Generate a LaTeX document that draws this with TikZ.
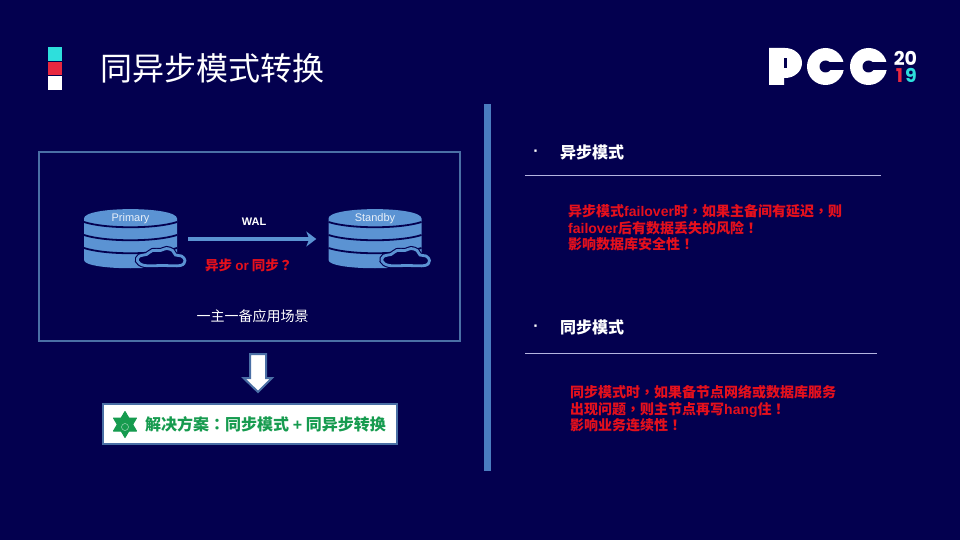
\documentclass[tikz,border=0pt]{standalone}
\usepackage{fontspec}
\setmainfont{Liberation Sans}
\newfontfamily\cjk{Noto Sans CJK SC}
\newfontfamily\cjkpunct{Noto Sans CJK TC}
\newfontfamily\logofont{Poppins}
\usetikzlibrary{positioning,arrows.meta}
\definecolor{bgblue}{HTML}{03004F}
\definecolor{dbblue}{HTML}{5B93D3}
\definecolor{framecol}{HTML}{4A6FA5}
\definecolor{barblue}{HTML}{4A7CC0}
\definecolor{rulecol}{HTML}{B4B4E0}
\definecolor{redtxt}{HTML}{E5101C}
\definecolor{greentxt}{HTML}{169B4F}
\definecolor{teal}{HTML}{2EDFDC}
\definecolor{logored}{HTML}{E8283F}
\tikzset{
  dbbox/.style={minimum width=93pt,minimum height=58pt,inner sep=0},
  dbname/.style={text=white!85!dbblue,font=\fontsize{11}{11}\selectfont,inner sep=0},
  walarrow/.style={dbblue,line width=3.5pt,-{Stealth[length=10pt,width=15pt,inset=3pt]}},
  headtxt/.style={text=white,anchor=west,inner sep=0,font=\cjk\bfseries\fontsize{16}{16}\selectfont},
  bullettxt/.style={text=white,inner sep=0,font=\bfseries\fontsize{16}{16}\selectfont},
  redblock/.style={text=redtxt,anchor=north west,align=left,inner sep=0,font=\cjk\bfseries\fontsize{14}{16.8}\selectfont},
  yeartxt/.style={inner sep=0,font=\logofont\bfseries\fontsize{19}{19}\selectfont},
  hrule/.style={rulecol,line width=0.8pt}
}
\newcommand{\latn}[1]{{\rmfamily\bfseries #1}}
\newcommand{\pnc}[1]{{\cjkpunct #1}}
\newcommand{\cloudline}{plot[smooth cycle,tension=0.6] coordinates {(14,265.5) (7,261) (9,256) (16,254.5) (22,250.5) (30,250.5) (36,248.5) (42,250.5) (45,255) (51,256) (54.5,260.5) (50,265.5) (32,265.5)}}
\newcommand{\dbicon}[3]{
  \begin{scope}[shift={(#2,0)}]
    \fill[dbblue] (-46.5,218.5) -- (-46.5,260) .. controls (-46.5,271) and (46.5,271) .. (46.5,260) -- (46.5,218.5) .. controls (46.5,206) and (-46.5,206) .. (-46.5,218.5) -- cycle;
    \foreach \ya in {222,235,248}
      \draw[bgblue,line width=1.8pt] (-46.5,\ya) .. controls (-25,\ya+7) and (25,\ya+7) .. (46.5,\ya);
    \draw[bgblue,line width=5pt,fill=bgblue] \cloudline;
    \draw[dbblue,line width=2.8pt] \cloudline;
  \end{scope}
  \node[dbbox] (#1) at (#2,239) {};
  \node[dbname] (#1name) at (#2,218.5) {#3};
}
\begin{document}
\begin{tikzpicture}[x=1pt,y=-1pt]
\useasboundingbox (0,0) rectangle (960,540);
\fill[bgblue] (0,0) rectangle (960,540);
\fill[teal] (48,47) rectangle (62,61);
\fill[logored] (48,62) rectangle (62,75.5);
\fill[white] (48,76) rectangle (62,90);
\node[text=white,anchor=west,inner sep=0,font=\cjk\fontsize{32}{32}\selectfont] (title) at (100,68) {同异步模式转换};
\fill[white] (769,48) -- (785,48) arc (-90:90:17 and 15) -- (784,78) -- (784,85) -- (769,85) -- cycle;
\fill[bgblue] (784,58) rectangle (787,68);
\foreach \xa in {825.5,868.5} {
  \fill[white] (\xa,66.5) circle (18.5);
  \fill[bgblue] (\xa,66.5) circle (6);
  \fill[bgblue] (\xa,62.5) rectangle (\xa+20,70.5);
}
\node[yeartxt,text=white] (yeara) at (905.5,58) {20};
\node[yeartxt,text=logored] (yearb) at (899.5,75.5) {1};
\node[yeartxt,text=teal] (yearc) at (911,75.5) {9};
\draw[framecol,line width=2pt] (39,152) rectangle (460,341);
\dbicon{primary}{130.5}{Primary}
\dbicon{standby}{375}{Standby}
\draw[walarrow,shorten <=11pt,shorten >=12pt] (primary.east) -- (standby.west);
\node[text=white,inner sep=0,font=\bfseries\fontsize{11}{11}\selectfont] (wal) at (254,222) {WAL};
\node[text=redtxt,anchor=west,inner sep=0,font=\cjk\bfseries\fontsize{13.5}{13.5}\selectfont] (question) at (205,265) {异步 \latn{or} 同步\pnc{？}};
\node[text=white,inner sep=0,font=\cjk\fontsize{14}{14}\selectfont] (scene) at (252.5,316) {一主一备应用场景};
\filldraw[fill=white,draw=framecol,line width=2pt] (250,354) -- (266,354) -- (266,378) -- (272,378) -- (258,392) -- (243.5,378) -- (250,378) -- cycle;
\filldraw[fill=white,draw=framecol,line width=2pt] (102.5,404) rectangle (396.5,443.5);
\filldraw[fill=greentxt,draw=greentxt,line width=1pt,line join=round] (125,411.5) -- (136.5,431) -- (113.5,431) -- cycle;
\filldraw[fill=greentxt,draw=greentxt,line width=1pt,line join=round] (125,437.5) -- (136.5,418) -- (113.5,418) -- cycle;
\draw[white!60!greentxt,line width=0.5pt] (125,427) circle (3.5);
\node[text=greentxt,anchor=west,inner sep=0,font=\cjk\bfseries\fontsize{16}{16}\selectfont] (solution) at (145,424) {解决方案\pnc{：}同步模式 \latn{+} 同异步转换};
\fill[barblue] (484,104) rectangle (491,471);
\node[bullettxt] (bulleta) at (536,153) {·};
\node[headtxt] (heada) at (560,152) {异步模式};
\draw[hrule] (525,175.5) -- (881,175.5);
\node[redblock] (blocka) at (568,204) {异步模式\latn{failover}时\pnc{，}如果主备间有延迟\pnc{，}则\\\latn{failover}后有数据丢失的风险\pnc{！}\\影响数据库安全性\pnc{！}};
\node[bullettxt] (bulletb) at (536,328) {·};
\node[headtxt] (headb) at (560,327) {同步模式};
\draw[hrule] (525,353) -- (877,353);
\node[redblock] (blockb) at (570,385) {同步模式时\pnc{，}如果备节点网络或数据库服务\\出现问题\pnc{，}则主节点再写\latn{hang}住\pnc{！}\\影响业务连续性\pnc{！}};
\end{tikzpicture}
\end{document}
